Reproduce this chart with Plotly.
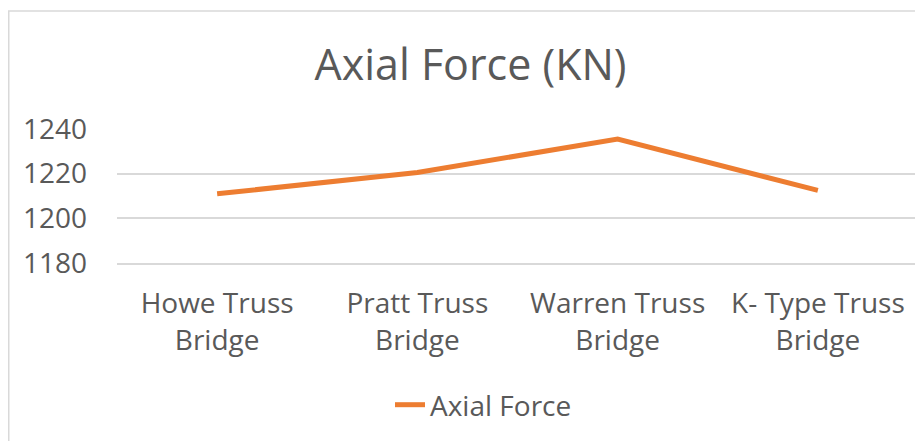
import plotly.graph_objects as go

categories = ["Howe Truss<br>Bridge", "Pratt Truss<br>Bridge", "Warren Truss<br>Bridge", "K- Type Truss<br>Bridge"]
axial_force = [1211, 1220.5, 1235.5, 1212.5]
y_ticks = [1180, 1200, 1220, 1240]

W, H = 923, 441
OFF = 8  # page body margin offset
L, T = 117 - OFF, 129 - OFF
R, B = W - (918 - OFF), H - (263 - OFF)
pw, ph = W - L - R, H - T - B
plot_bottom = H - B

fig = go.Figure()
fig.add_trace(go.Scatter(
    x=categories, y=axial_force, mode="lines", name="Axial Force",
    line=dict(color="#ED7D31", width=5),
))

font_color = "#595959"
fig.update_layout(
    width=W, height=H,
    margin=dict(l=L, r=R, t=T, b=B, autoexpand=False),
    paper_bgcolor="white", plot_bgcolor="white",
    font=dict(family="Open Sans", color=font_color, size=28),
    title=dict(text="Axial Force (KN)", x=(470.5 - OFF) / W, xanchor="center",
               y=1 - (65 - OFF) / H, yanchor="middle",
               font=dict(size=43, color=font_color, family="Open Sans")),
    xaxis=dict(showgrid=False, showline=True, linecolor="#D9D9D9", linewidth=1.5, ticks="",
               tickfont=dict(size=28, color=font_color), ticklabelstandoff=15,
               range=[-0.5, 3.5], fixedrange=True),
    yaxis=dict(range=[1180, 1240], tickvals=y_ticks, showgrid=True, gridcolor="#D9D9D9", gridwidth=1.5,
               zeroline=False, showline=False, ticks="", ticklabelstandoff=29,
               tickfont=dict(size=28, color=font_color)),
    showlegend=True,
    legend=dict(orientation="h", x=0.5 - 34 / pw, xanchor="center",
                y=-((405 - OFF) - plot_bottom) / ph, yanchor="middle",
                font=dict(size=28, color=font_color), bgcolor="rgba(0,0,0,0)"),
)

# outer chart border (light gray); right/bottom edges fall outside the image as in the reference
fig.add_shape(type="rect", xref="paper", yref="paper",
              x0=(0.75 - L) / pw, x1=(W + 20 - L) / pw,
              y0=-(H + 20 - plot_bottom) / ph, y1=(plot_bottom - (11 - OFF)) / ph,
              line=dict(color="#D9D9D9", width=1.5), fillcolor="rgba(0,0,0,0)", layer="below")

fig.write_html("out.html")
